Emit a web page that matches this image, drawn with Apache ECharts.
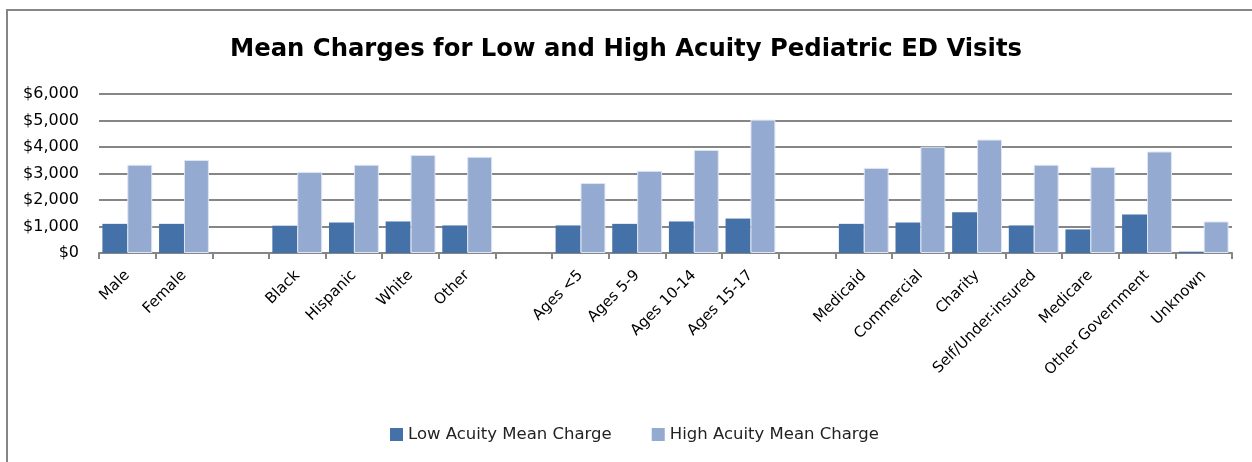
<!DOCTYPE html>
<html>
<head>
<meta charset="utf-8">
<script src="https://cdn.jsdelivr.net/npm/echarts@6/dist/echarts.min.js"></script>
<style>
html,body{margin:0;padding:0;background:#fff;}
#chart{width:1252px;height:462px;}
</style>
</head>
<body>
<div id="chart"></div>
<script>
const categories = ["Male","Female","","Black","Hispanic","White","Other","","Ages <5","Ages 5-9","Ages 10-14","Ages 15-17","","Medicaid","Commercial","Charity","Self/Under-insured","Medicare","Other Government","Unknown"];
const lowAcuity = [1100,1100,null,1030,1150,1190,1040,null,1040,1100,1190,1300,null,1100,1150,1540,1040,890,1450,50];
const highAcuity = [3330,3510,null,3060,3330,3700,3630,null,2640,3100,3890,5030,null,3210,4010,4280,3330,3250,3830,1190];
const yTicks = [0,1000,2000,3000,4000,5000,6000];
const seriesNames = ["Low Acuity Mean Charge","High Acuity Mean Charge"];

const font = "'DejaVu Sans', sans-serif";
const chart = echarts.init(document.getElementById('chart'), null, {renderer:'canvas'});
chart.setOption({
  animation:false,
  backgroundColor:'#fff',
  graphic:[{type:'rect',shape:{x:7,y:10,width:1300,height:500},style:{fill:'none',stroke:'#868686',lineWidth:2},z:-1}],
  title:{text:'Mean Charges for Low and High Acuity Pediatric ED Visits',left:'center',top:33,
    textStyle:{fontFamily:font,fontWeight:'bold',fontSize:24.3,color:'#000'}},
  legend:{data:seriesNames,bottom:14,left:385,itemWidth:13,itemHeight:13,itemGap:40,icon:'rect',
    itemStyle:{borderWidth:0},
    textStyle:{fontFamily:font,fontSize:16.5,color:'#222'}},
  grid:{left:99,right:20,top:94,bottom:209,containLabel:false},
  xAxis:{type:'category',data:categories,
    axisLine:{lineStyle:{color:'#868686',width:2}},
    axisTick:{show:true,alignWithLabel:false,length:6,lineStyle:{color:'#868686',width:2}},
    axisLabel:{rotate:45,interval:0,margin:20,fontFamily:font,fontSize:15,color:'#000'}},
  yAxis:{type:'value',min:yTicks[0],max:yTicks[yTicks.length-1],interval:1000,
    axisLine:{show:false},axisTick:{show:false},
    splitLine:{lineStyle:{color:'#868686',width:2}},
    axisLabel:{margin:20,fontFamily:font,fontSize:16,color:'#000',
      formatter:v=>'$'+v.toLocaleString('en-US')}},
  series:[
    {name:seriesNames[0],type:'bar',data:lowAcuity,barGap:'0%',barCategoryGap:'12%',
      itemStyle:{color:'#4471A7'}},
    {name:seriesNames[1],type:'bar',data:highAcuity,barGap:'0%',barCategoryGap:'12%',
      itemStyle:{color:'#95AAD1',borderColor:'#dde5f2',borderWidth:1}}
  ]
});
</script>
</body>
</html>
